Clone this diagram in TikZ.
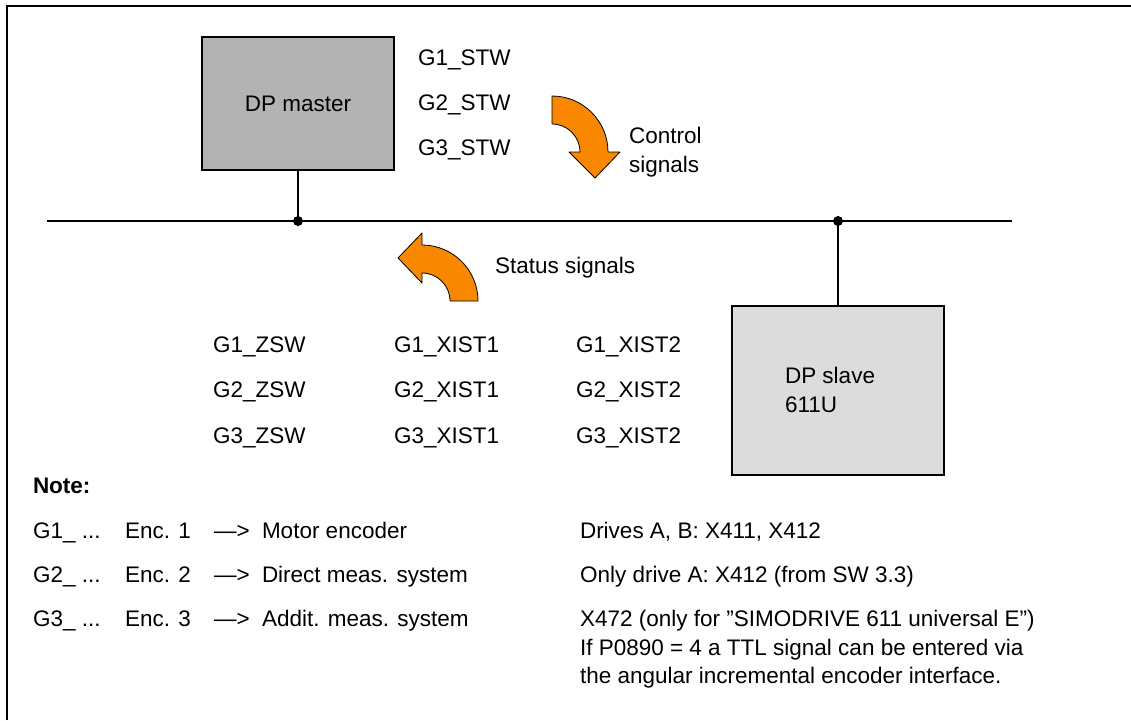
\documentclass[tikz,border=0pt]{standalone}
\usepackage{fontspec}
\setmainfont{Liberation Sans}
\definecolor{masterfill}{RGB}{179,179,179}
\definecolor{slavefill}{RGB}{220,220,220}
\definecolor{arroworange}{RGB}{250,135,0}
\begin{document}
\begin{tikzpicture}[x=1pt,y=-1pt,
  every node/.style={font=\fontsize{22.5}{27}\selectfont},
  txt/.style={anchor=base west,inner sep=0pt,outer sep=0pt},
  unitbox/.style={draw=black,line width=1.6pt,inner sep=0pt},
  wire/.style={line width=1.6pt},
  junction/.style={circle,fill=black,inner sep=0pt,minimum size=10pt},
  sigarrow/.style={fill=arroworange,draw=black,line width=0.8pt,line join=round}]
\useasboundingbox (0,0) rectangle (1131,720);
% frame (top and left)
\draw[line width=1.8pt] (7,720) -- (7,6) -- (1131,6);
% boxes
\node[unitbox,fill=masterfill,minimum width=192pt,minimum height=133pt] (master) at (298,103.5) {DP master};
\node[unitbox,fill=slavefill,minimum width=212pt,minimum height=169pt] (slave) at (838,390.5) {};
\node[txt] (slave1) at (785,383) {DP slave};
\node[txt] (slave2) at (785,412) {611U};
% bus
\coordinate (busL) at (47,221);
\coordinate (busR) at (1012,221);
\node[junction] (d1) at (298,221) {};
\node[junction] (d2) at (838,221) {};
\draw[wire] (busL) -- (busR);
\draw[wire] (master.south) -- (d1.center);
\draw[wire] (d2.center) -- (slave.north);
% control signals
\node[txt] (stw1) at (418,65) {G1\_STW};
\node[txt] (stw2) at (418,110) {G2\_STW};
\node[txt] (stw3) at (418,155) {G3\_STW};
\draw[sigarrow] (552,96) arc[start angle=-90,end angle=0,radius=56] -- (620,152) -- (595,178) -- (569,152) -- (580,152) arc[start angle=0,end angle=-90,radius=28] -- cycle;
\node[txt] (ctl1) at (629,143) {Control};
\node[txt] (ctl2) at (629,172) {signals};
% status signals
\draw[sigarrow] (478,301) arc[start angle=0,end angle=-90,radius=56] -- (422,233) -- (398,258) -- (422,283) -- (422,273) arc[start angle=-90,end angle=0,radius=28] -- cycle;
\node[txt] (stat) at (495,273) {Status signals};
\node[txt] (z1) at (213,352) {G1\_ZSW};
\node[txt] (z2) at (213,397) {G2\_ZSW};
\node[txt] (z3) at (213,443) {G3\_ZSW};
\node[txt] (xa1) at (394,352) {G1\_XIST1};
\node[txt] (xa2) at (394,397) {G2\_XIST1};
\node[txt] (xa3) at (394,443) {G3\_XIST1};
\node[txt] (xb1) at (576,352) {G1\_XIST2};
\node[txt] (xb2) at (576,397) {G2\_XIST2};
\node[txt] (xb3) at (576,443) {G3\_XIST2};
% note
\node[txt,font=\fontsize{22.5}{27}\selectfont\bfseries] (note) at (33,493) {Note:};
\node[txt] (n1a) at (33,538) {G1\_ ...};
\node[txt] (n1b) at (125,538) {Enc. 1};
\node[txt] (n1c) at (214,538) {—>};
\node[txt] (n1d) at (262,538) {Motor encoder};
\node[txt] (n1e) at (580,538) {Drives A, B: X411, X412};
\node[txt] (n2a) at (33,582) {G2\_ ...};
\node[txt] (n2b) at (125,582) {Enc. 2};
\node[txt] (n2c) at (214,582) {—>};
\node[txt] (n2d) at (262,582) {Direct meas. system};
\node[txt] (n2e) at (580,582) {Only drive A: X412 (from SW 3.3)};
\node[txt] (n3a) at (33,626) {G3\_ ...};
\node[txt] (n3b) at (125,626) {Enc. 3};
\node[txt] (n3c) at (214,626) {—>};
\node[txt] (n3d) at (262,626) {Addit. meas. system};
\node[txt] (n3e) at (580,626) {X472 (only for ”SIMODRIVE 611 universal E”)};
\node[txt] (n4e) at (580,655) {If P0890 = 4 a TTL signal can be entered via};
\node[txt] (n5e) at (580,683) {the angular incremental encoder interface.};
\end{tikzpicture}
\end{document}
